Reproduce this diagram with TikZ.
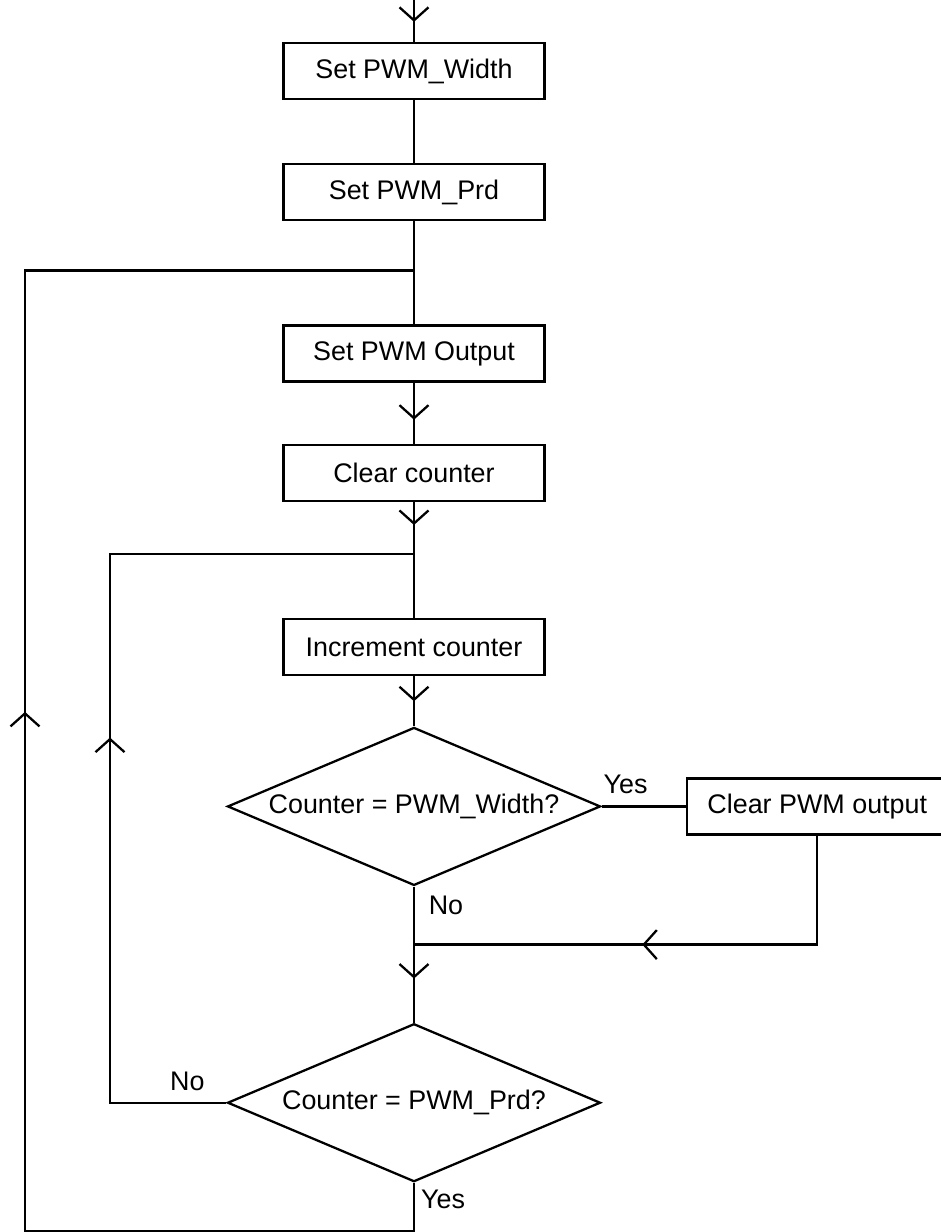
\documentclass[tikz,border=0pt]{standalone}
\usepackage{fontspec}
\setmainfont{Liberation Sans}
\usetikzlibrary{positioning,arrows.meta,shapes.geometric,decorations.markings}

\begin{document}
\begin{tikzpicture} [node distance=1.3cm,
    every node/.style={font=\fontsize{15.3}{18}\selectfont},
    box/.style={draw,line width=1.3pt,rectangle,minimum width=5.22cm,minimum height=1.12cm,inner sep=0pt},
    test/.style={draw,line width=1.3pt,diamond,aspect=2.36,minimum width=7.46cm,minimum height=3.16cm,inner sep=0pt},
    flow/.style={line width=1.3pt},
    chev/.style={postaction=decorate,decoration={markings,mark=at position #1 with {\arrow{Straight Barb[length=0.26cm,width=0.58cm]}}}}]
    \useasboundingbox (-8.28,1.42) rectangle (10.54,-23.22);

    \node[box] (setw) at (0,0) {Set PWM\_Width};
    \node[box,below=1.26cm of setw] (setp) {Set PWM\_Prd};
    \node[box,below=2.06cm of setp] (seto) {Set PWM Output};
    \node[box,below=1.22cm of seto] (clrc) {Clear counter};
    \node[box,below=2.32cm of clrc] (incc) {Increment counter};
    \node[test,below=1.0cm of incc] (cmpw) {Counter = PWM\_Width?};
    \node[box,right=1.68cm of cmpw] (clro) {Clear PWM output};
    \node[test,below=2.72cm of cmpw] (cmpp) {Counter = PWM\_Prd?};

    \coordinate[above=0.9cm of setw] (top);
    \coordinate[below=0.98cm of setp] (j1);
    \coordinate[below=1.04cm of clrc] (j2);
    \coordinate[below=1.16cm of cmpw] (j3);
    \coordinate[below=0.96cm of cmpp] (bot);
    \coordinate (j1l) at ([xshift=-7.78cm]j1);
    \coordinate (j2l) at ([xshift=-6.08cm]j2);

    % main line
    \draw[flow,chev=0.5cm] (top) -- (setw);
    \draw[flow] (setw) -- (setp);
    \draw[flow] (setp) -- (seto);
    \draw[flow,chev=0.74cm] (seto) -- (clrc);
    \draw[flow,chev=0.46cm] (clrc) -- (incc);
    \draw[flow,chev=0.5cm] (incc) -- (cmpw);
    \draw[flow,chev=1.84cm] (cmpw) -- (cmpp);

    % yes branch
    \draw[flow] (cmpw) -- (clro);
    \draw[flow,chev=5.68cm] (clro) -- (clro |- j3) -- (j3);

    % loops back
    \draw[flow,chev=9.63cm] (cmpp) -- (j2l |- cmpp) -- (j2l) -- (j2);
    \draw[flow,chev=19.12cm] (cmpp) -- (bot) -| (j1l) -- (j1);

    \node (yes1) at ([xshift=0.48cm,yshift=0.44cm]cmpw.east) {Yes};
    \node (no1) at ([xshift=0.64cm,yshift=-0.38cm]cmpw.south) {No};
    \node (no2) at ([xshift=-0.78cm,yshift=0.42cm]cmpp.west) {No};
    \node (yes2) at ([xshift=0.58cm,yshift=-0.34cm]cmpp.south) {Yes};
\end{tikzpicture}
\end{document}
